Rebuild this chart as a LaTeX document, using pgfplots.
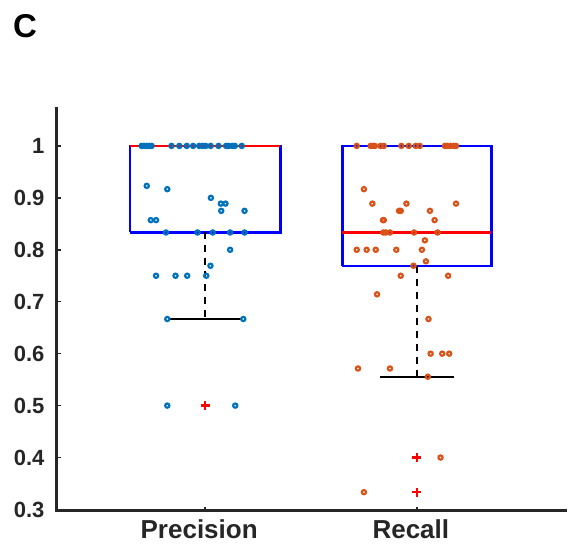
\documentclass[border=0pt]{standalone}
\usepackage{fontspec}
\setmainfont{Liberation Sans}
\usepackage{pgfplots}
\pgfplotsset{compat=1.18}
\definecolor{mblue}{RGB}{0,114,189}
\definecolor{morange}{RGB}{217,83,25}
\definecolor{axgray}{RGB}{38,38,38}
\definecolor{boxblue}{RGB}{0,0,255}
\definecolor{medred}{RGB}{255,0,0}
\begin{document}
\begin{tikzpicture}[x=1pt,y=1pt]
\useasboundingbox (0,0) rectangle (576,-546);
\node[anchor=north west, inner sep=0pt, text=black, font=\fontsize{33}{33}\selectfont\bfseries] at (13,-14) {C};
\begin{axis}[
  at={(57pt,-510.5pt)}, anchor=south west,
  scale only axis, width=508pt, height=402.5pt,
  xmin=0.3, xmax=2.7, ymin=0.298, ymax=1.073,
  axis x line*=bottom, axis y line*=left,
  axis line style={line width=3pt, axgray, line cap=rect},
  tick align=inside, major tick length=3.5pt,
  tick style={axgray, line width=1.5pt},
  xtick={1,2}, xticklabels={Precision,Recall},
  ytick={0.3,0.4,0.5,0.6,0.7,0.8,0.9,1},
  yticklabels={0.3,0.4,0.5,0.6,0.7,0.8,0.9,1},
  /pgf/number format/assume math mode=true,
  yticklabel style={font=\fontsize{22}{22}\selectfont\bfseries, text=axgray, xshift=-9pt},
  xticklabel style={font=\fontsize{26}{26}\selectfont\bfseries, text=axgray, xshift=-6pt, yshift=-6pt},
  clip=false,
]
% Precision box
\addplot[boxblue, line width=2.4pt, line join=miter] coordinates {(0.645,0.8333) (1.355,0.8333) (1.355,1) (0.645,1) (0.645,0.8333)};
\addplot[black, line width=2.4pt, dash pattern=on 7pt off 6pt] coordinates {(1,0.8333) (1,0.6667)};
\addplot[black, line width=2.4pt] coordinates {(0.827,0.6667) (1.173,0.6667)};
\addplot[medred, line width=2.4pt] coordinates {(0.645,1) (1.355,1)};
\addplot[medred, only marks, mark=+, mark size=4.5pt, mark options={line width=2.2pt}] coordinates {(1,0.5)};
% Recall box
\addplot[boxblue, line width=2.4pt, line join=miter] coordinates {(1.648,0.7692) (2.352,0.7692) (2.352,1) (1.648,1) (1.648,0.7692)};
\addplot[black, line width=2.4pt, dash pattern=on 7pt off 6pt] coordinates {(2,0.7692) (2,0.5556)};
\addplot[black, line width=2.4pt] coordinates {(1.826,0.5556) (2.174,0.5556)};
\addplot[medred, line width=2.4pt] coordinates {(1.648,0.8333) (2.352,0.8333)};
\addplot[medred, only marks, mark=+, mark size=4.5pt, mark options={line width=2.2pt}] coordinates {(2,0.4) (2,0.3333)};
% Precision points
\addplot[mblue, only marks, mark=o, mark size=2.1pt, mark options={line width=2.2pt}] coordinates {
(0.700,1) (0.711,1) (0.724,1) (0.735,1) (0.747,1) (0.841,1) (0.878,1) (0.913,1) (0.943,1) (0.972,1)
(0.988,1) (1.002,1) (1.026,1) (1.063,1) (1.099,1) (1.111,1) (1.128,1) (1.140,1) (1.173,1)
(0.724,0.9231) (0.821,0.9167) (1.027,0.9) (1.074,0.8889) (1.096,0.8889)
(1.076,0.875) (1.186,0.875) (0.743,0.8571) (0.768,0.8571)
(0.815,0.8333) (0.964,0.8333) (1.036,0.8333) (1.118,0.8333) (1.186,0.8333)
(1.118,0.8) (1.025,0.7692)
(0.768,0.75) (0.860,0.75) (0.915,0.75) (1.005,0.75)
(0.821,0.6667) (1.180,0.6667) (0.821,0.5) (1.142,0.5)
};
% Recall points
\addplot[morange, only marks, mark=o, mark size=2.1pt, mark options={line width=2.2pt}] coordinates {
(1.716,1) (1.782,1) (1.793,1) (1.802,1) (1.829,1) (1.844,1) (1.927,1) (1.962,1) (1.995,1) (2.014,1)
(2.133,1) (2.145,1) (2.159,1) (2.174,1) (2.185,1)
(1.750,0.9167) (1.790,0.8889) (1.951,0.8889) (2.185,0.8889)
(1.916,0.875) (1.924,0.875) (2.062,0.875)
(1.840,0.8571) (1.844,0.8571) (2.084,0.8571)
(1.842,0.8333) (1.853,0.8333) (1.873,0.8333) (1.987,0.8333) (2.098,0.8333)
(2.038,0.8182)
(1.716,0.8) (1.763,0.8) (1.806,0.8) (1.903,0.8) (2.024,0.8)
(2.043,0.7778) (1.984,0.7692) (1.924,0.75) (2.148,0.75)
(1.812,0.7143) (2.055,0.6667)
(2.065,0.6) (2.120,0.6) (2.153,0.6)
(1.722,0.5714) (1.873,0.5714) (2.052,0.5556)
(2.112,0.4) (1.750,0.3333)
};
\end{axis}
\end{tikzpicture}
\end{document}
